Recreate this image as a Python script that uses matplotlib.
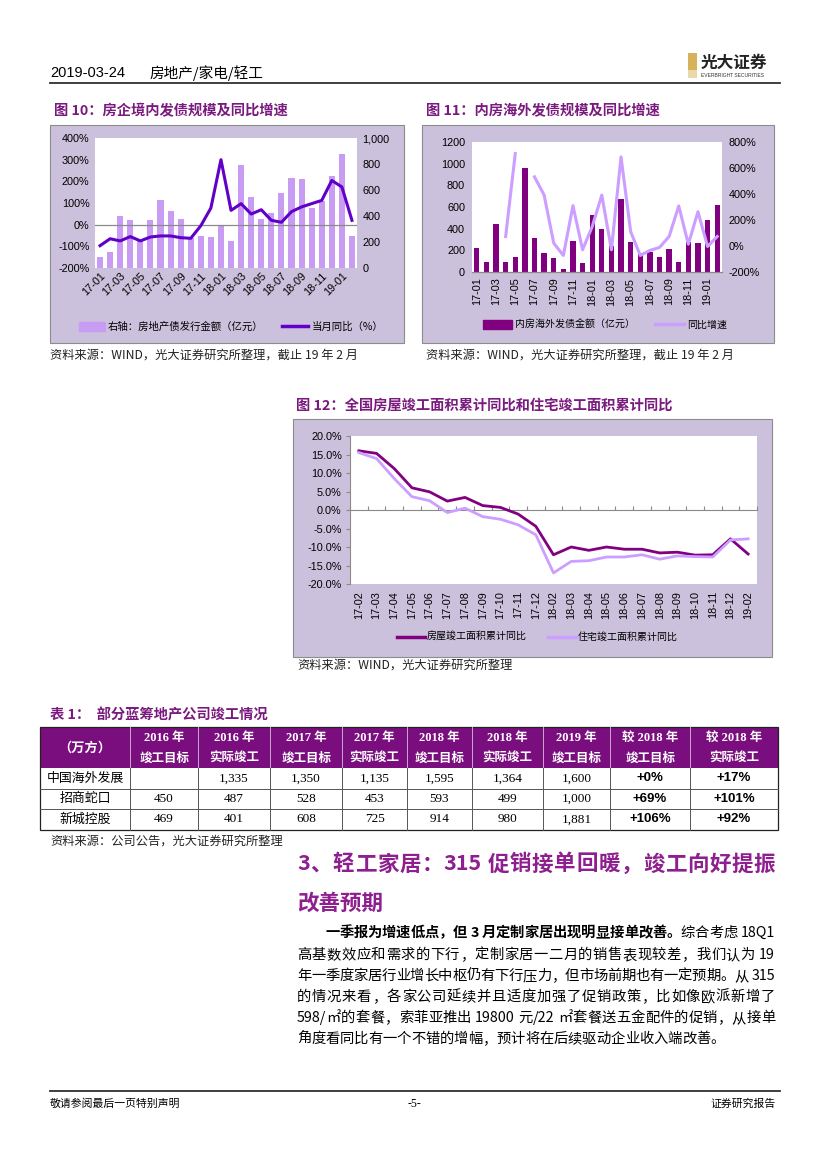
import re
import numpy as np
import matplotlib
matplotlib.use("Agg")
import matplotlib.pyplot as plt
from matplotlib.patches import Rectangle, Patch
from matplotlib.lines import Line2D
from matplotlib.ticker import FuncFormatter

plt.rcParams['font.family'] = ['Noto Sans CJK SC', 'DejaVu Sans']
NUM = ['Liberation Sans', 'Noto Sans CJK SC']

W, H = 827, 1169

# ---- data ----
months26 = ['17-01', '17-02', '17-03', '17-04', '17-05', '17-06', '17-07', '17-08',
            '17-09', '17-10', '17-11', '17-12', '18-01', '18-02', '18-03', '18-04',
            '18-05', '18-06', '18-07', '18-08', '18-09', '18-10', '18-11', '18-12',
            '19-01', '19-02']
# fig 10: onshore bond issuance (亿元) and monthly yoy (%)
onshore_amt = [82, 123, 402, 366, 210, 366, 525, 441, 379, 230, 246, 236, 320, 210,
               789, 546, 377, 425, 579, 692, 685, 458, 512, 705, 877, 248]
onshore_yoy = [-97, -65, -75, -55, -75, -57, -52, -52, -60, -63, -5, 77, 300, 66,
               97, 49, 69, 20, 11, 60, 82, 97, 112, 204, 174, 20]
# fig 11: offshore bond issuance (亿元) and yoy (%)
offshore_amt = [220, 88, 441, 95, 138, 964, 315, 177, 131, 30, 287, 83, 526, 395,
                240, 670, 278, 174, 183, 141, 214, 92, 275, 272, 480, 618]
offshore_yoy = [np.nan, np.nan, np.nan, 73, 711, np.nan, 532, 392, 22, -73, 310, -29,
                149, 392, -29, 685, 111, -73, -34, -11, 73, 308, 14, 264, -4, 73]
# fig 12: cumulative yoy of completed floor area (%)
months23 = ['17-02', '17-03', '17-04', '17-05', '17-06', '17-07', '17-08', '17-09',
            '17-10', '17-11', '17-12', '18-02', '18-03', '18-04', '18-05', '18-06',
            '18-07', '18-08', '18-09', '18-10', '18-11', '18-12', '19-02']
completed_all = [16.0, 15.3, 11.2, 6.0, 4.9, 2.4, 3.4, 1.2, 0.7, -1.1, -4.4, -12.1,
                 -10.0, -10.9, -10.0, -10.6, -10.6, -11.6, -11.4, -12.2, -12.1, -7.8, -11.9]
completed_res = [15.5, 13.9, 8.5, 3.6, 2.5, -0.7, 0.5, -1.8, -2.5, -4.0, -6.7, -17.0,
                 -13.9, -13.7, -12.7, -12.7, -12.1, -13.3, -12.4, -12.6, -12.7, -8.1, -7.8]
# table 1
tbl_head = ['2016 年\n竣工目标', '2016 年\n实际竣工', '2017 年\n竣工目标', '2017 年\n实际竣工',
            '2018 年\n竣工目标', '2018 年\n实际竣工', '2019 年\n竣工目标',
            '较 2018 年\n竣工目标', '较 2018 年\n实际竣工']
companies = ['中国海外发展', '招商蛇口', '新城控股']
area_vals = [[None, 1335, 1350, 1135, 1595, 1364, 1600],
             [450, 487, 528, 453, 593, 499, 1000],
             [469, 401, 608, 725, 914, 980, 1881]]
vs_target = [0, 69, 106]
vs_actual = [17, 101, 92]

LAV = '#CBC1DC'
TITLE = '#7A1A7E'
BAR10 = '#C99CF4'
LINE10 = '#6000C8'
BAR11 = '#800080'
LINE11 = '#CC9EFF'
GRID = '#8A8A8A'
SRC_FS = 8.8
TICK_FS = 7.8


def box(x0, y0, x1, y1):
    return [x0 / W, 1 - y1 / H, (x1 - x0) / W, (y1 - y0) / H]


fig = plt.figure(figsize=(W / 100, H / 100), dpi=100)
renderer = fig.canvas.get_renderer()
page = fig.add_axes([0, 0, 1, 1])
page.set_xlim(0, W)
page.set_ylim(H, 0)
page.axis('off')
page.set_zorder(-1)


def justify(x0, x1, y, segments, fs, stretch=True, color='black'):
    # segments: list of (text, weight); ascii runs stay together
    toks = []
    for text, weight in segments:
        for t in re.findall(r'[A-Za-z0-9/\.]+|.', text):
            toks.append((t, weight))
    arts, widths = [], []
    for t, weight in toks:
        a = page.text(0, y, t, fontsize=fs, weight=weight, va='center', ha='left',
                      color=color)
        arts.append(a)
        widths.append(a.get_window_extent(renderer).width)
    gap = (x1 - x0 - sum(widths)) / (len(toks) - 1) if stretch else 0
    x = x0
    for a, w in zip(arts, widths):
        a.set_x(x)
        x += w + gap


# ---- header / footer ----
page.text(50, 73, '2019-03-24', fontsize=10.5, family=NUM, va='center')
page.text(150, 73, '房地产/家电/轻工', fontsize=10.5, va='center')
page.plot([50, 780], [83, 83], color='#303030', lw=1.3)
page.add_patch(Rectangle((688, 53), 9, 25, facecolor='#D8B25A', edgecolor='none'))
page.add_patch(Rectangle((688, 70), 9, 8, facecolor='#EAD9A8', edgecolor='none'))
page.text(701, 63, '光大证券', fontsize=12, weight='bold', va='center', color='#222222')
page.text(701, 75.5, 'EVERBRIGHT SECURITIES', fontsize=3.6, va='center', family=NUM,
          color='#333333')
page.plot([50, 780], [1091, 1091], color='#303030', lw=1.3)
page.text(50, 1104, '敬请参阅最后一页特别声明', fontsize=7.8, va='center')
page.text(414, 1104, '-5-', fontsize=8.5, va='center', ha='center', family=['Liberation Serif'])
page.text(776, 1104, '证券研究报告', fontsize=7.8, va='center', ha='right')

# ---- chart frames ----
for (x0, y0, x1, y1) in [(50, 125, 404, 343), (422, 125, 774, 343), (293, 419, 772, 657)]:
    page.add_patch(Rectangle((x0, y0), x1 - x0, y1 - y0, facecolor=LAV,
                             edgecolor='#8C8C8C', lw=0.8))

page.text(54, 111, '图 10：房企境内发债规模及同比增速', fontsize=10.3, weight='bold',
          color=TITLE, va='center')
page.text(426, 111, '图 11：内房海外发债规模及同比增速', fontsize=10.3, weight='bold',
          color=TITLE, va='center')
page.text(296, 406, '图 12：全国房屋竣工面积累计同比和住宅竣工面积累计同比', fontsize=10.3,
          weight='bold', color=TITLE, va='center')
src = '资料来源：WIND，光大证券研究所整理，截止 19 年 2 月'
page.text(50, 355, src, fontsize=SRC_FS, va='center', color='#222222')
page.text(426, 355, src, fontsize=SRC_FS, va='center', color='#222222')
page.text(297, 665, '资料来源：WIND，光大证券研究所整理', fontsize=SRC_FS, va='center',
          color='#222222')

x26 = np.arange(len(months26))

# ---- figure 10 ----
ax10 = fig.add_axes(box(95, 138, 357, 268))
ax10.bar(x26, onshore_amt, width=0.6, color=BAR10, zorder=2)
ax10.set_xlim(-0.5, len(months26) - 0.5)
ax10.set_ylim(0, 1000)
ax10.set_yticks(range(0, 1001, 200))
ax10.yaxis.set_major_formatter(FuncFormatter(lambda v, p: f'{v:,.0f}'))
ax10.set_xticks(x26[::2])
ax10.set_xticklabels(months26[::2], rotation=45, ha='right', rotation_mode='anchor')
tw10 = ax10.twinx()
ax10.yaxis.tick_right()
tw10.yaxis.tick_left()
tw10.axhline(0, color=GRID, lw=0.9, zorder=1)
tw10.plot(x26, onshore_yoy, color=LINE10, lw=2.2, zorder=3)
tw10.set_ylim(-200, 400)
tw10.set_yticks(range(-200, 401, 100))
tw10.yaxis.set_major_formatter(FuncFormatter(lambda v, p: f'{v:.0f}%'))
for a in (ax10, tw10):
    for s in a.spines.values():
        s.set_visible(False)
    a.tick_params(length=0, labelsize=TICK_FS, pad=4)
    for lab in a.get_yticklabels() + a.get_xticklabels():
        lab.set_family(NUM)
ax10.tick_params(axis='x', pad=2)
ax10.legend([Patch(color=BAR10), Line2D([], [], color=LINE10, lw=2.5)],
            ['右轴：房地产债发行金额（亿元）', '当月同比（%）'],
            loc='center', bbox_to_anchor=(231, 327), bbox_transform=page.transData,
            ncol=2, frameon=False, fontsize=7.5, handlelength=2.5, handleheight=0.9,
            columnspacing=1.8, handletextpad=0.3)

# ---- figure 11 ----
ax11 = fig.add_axes(box(472, 142, 722, 272))
ax11.bar(x26, offshore_amt, width=0.55, color=BAR11, zorder=2)
ax11.set_xlim(-0.5, len(months26) - 0.5)
ax11.set_ylim(0, 1200)
ax11.set_yticks(range(0, 1201, 200))
ax11.set_xticks(x26[::2])
ax11.set_xticklabels(months26[::2], rotation=90)
tw11 = ax11.twinx()
tw11.plot(x26, offshore_yoy, color=LINE11, lw=2.2, zorder=3)
tw11.set_ylim(-200, 800)
tw11.set_yticks(range(-200, 801, 200))
tw11.yaxis.set_major_formatter(FuncFormatter(lambda v, p: f'{v:.0f}%'))
for a in (ax11, tw11):
    for k, s in a.spines.items():
        s.set_visible(k == 'bottom')
        s.set_color(GRID)
    a.tick_params(axis='y', length=0, labelsize=TICK_FS, pad=5)
    for lab in a.get_yticklabels() + a.get_xticklabels():
        lab.set_family(NUM)
ax11.tick_params(axis='x', length=0, labelsize=TICK_FS, pad=4)
ax11.legend([Patch(color=BAR11), Line2D([], [], color=LINE11, lw=2.5)],
            ['内房海外发债金额（亿元）', '同比增速'],
            loc='center', bbox_to_anchor=(605, 325), bbox_transform=page.transData,
            ncol=2, frameon=False, fontsize=7.2, handlelength=2.9, handleheight=0.9,
            columnspacing=2.0, handletextpad=0.3)

# ---- figure 12 ----
x23 = np.arange(len(months23))
ax12 = fig.add_axes(box(350, 436, 757, 584))
ax12.plot(x23, completed_all, color='#800080', lw=2.0, zorder=3)
ax12.plot(x23, completed_res, color=LINE11, lw=2.0, zorder=3)
ax12.set_xlim(-0.5, len(months23) - 0.5)
ax12.set_ylim(-20, 20)
ax12.set_yticks(np.arange(-20, 21, 5))
ax12.yaxis.set_major_formatter(FuncFormatter(lambda v, p: f'{v:.1f}%'))
ax12.set_xticks(x23)
ax12.set_xticklabels(months23, rotation=90)
for k, s in ax12.spines.items():
    s.set_visible(k == 'left')
    s.set_color(GRID)
ax12.tick_params(axis='y', length=3, color=GRID, labelsize=TICK_FS, pad=3)
ax12.tick_params(axis='x', length=0, labelsize=TICK_FS, pad=5)
for lab in ax12.get_yticklabels() + ax12.get_xticklabels():
    lab.set_family(NUM)
zero = ax12.secondary_xaxis(0.5)
zero.set_xticks(np.arange(-0.5, len(months23), 1.0))
zero.tick_params(length=3, color=GRID, labeltop=False, labelbottom=False)
for s in zero.spines.values():
    s.set_color(GRID)
ax12.legend([Line2D([], [], color='#800080', lw=2.5), Line2D([], [], color=LINE11, lw=2.5)],
            ['房屋竣工面积累计同比', '住宅竣工面积累计同比'],
            loc='center', bbox_to_anchor=(537, 637), bbox_transform=page.transData,
            ncol=2, frameon=False, fontsize=7.2, handlelength=2.8,
            columnspacing=2.1, handletextpad=0.2)

# ---- table 1 ----
page.text(50, 715, '表 1：  部分蓝筹地产公司竣工情况', fontsize=10.3, weight='bold',
          color=TITLE, va='center')
edges = [40, 130, 198, 270, 342, 407, 472, 543, 610, 690, 778]
hy0, hy1 = 727, 768
rows_y = [768, 788.5, 809, 830]
page.add_patch(Rectangle((edges[0], hy0), edges[-1] - edges[0], hy1 - hy0,
                         facecolor='#7B0E7E', edgecolor='none'))
for xe in edges[1:-1]:
    page.plot([xe, xe], [hy0, hy1], color='#C9A6CC', lw=0.7)
    page.plot([xe, xe], [hy1, rows_y[-1]], color='#555555', lw=0.7)
for yy in rows_y[1:-1]:
    page.plot([edges[0], edges[-1]], [yy, yy], color='#555555', lw=0.7)
page.add_patch(Rectangle((edges[0], hy0), edges[-1] - edges[0], rows_y[-1] - hy0,
                         facecolor='none', edgecolor='#222222', lw=0.9))
page.text((edges[0] + edges[1]) / 2, (hy0 + hy1) / 2, '（万方）', color='white',
          fontsize=9.5, weight='bold', ha='center', va='center')
for j, h in enumerate(tbl_head):
    top, bot = h.split('\n')
    cx = (edges[j + 1] + edges[j + 2]) / 2
    page.text(cx, 738, top, color='white', fontsize=9, weight='bold', ha='center',
              va='center', family=['Liberation Serif', 'Noto Sans CJK SC'])
    page.text(cx, 758, bot, color='white', fontsize=9, weight='bold', ha='center',
              va='center')
for i, name in enumerate(companies):
    cy = (rows_y[i] + rows_y[i + 1]) / 2
    page.text((edges[0] + edges[1]) / 2, cy, name, fontsize=9.3, ha='center', va='center')
    for j, v in enumerate(area_vals[i]):
        if v is None:
            continue
        cx = (edges[j + 1] + edges[j + 2]) / 2
        page.text(cx, cy, f'{v:,}', fontsize=9.5, ha='center', va='center',
                  family=['Liberation Serif'])
    for j, v in enumerate([vs_target[i], vs_actual[i]]):
        cx = (edges[8 + j] + edges[9 + j]) / 2
        page.text(cx, cy, f'+{v}%', fontsize=9.5, weight='bold', ha='center',
                  va='center', family=['Liberation Sans'])
page.text(50, 841, '资料来源：公司公告，光大证券研究所整理', fontsize=SRC_FS, va='center',
          color='#222222')

# ---- section text ----
HEAD = '#8E1F8F'
justify(297, 775, 864, [('3、轻工家居：315 促销接单回暖，竣工向好提振', 'bold')], 15.5,
        color=HEAD)
page.text(297, 903, '改善预期', fontsize=15.5, weight='bold', color=HEAD, va='center')

body_fs = 10.3
justify(325, 775, 933, [('一季报为增速低点，但 3 月定制家居出现明显接单改善。', 'bold'),
                        ('综合考虑 18Q1', 'normal')], body_fs)
body = ['高基数效应和需求的下行，定制家居一二月的销售表现较差，我们认为 19',
        '年一季度家居行业增长中枢仍有下行压力，但市场前期也有一定预期。从 315',
        '的情况来看，各家公司延续并且适度加强了促销政策，比如像欧派新增了',
        '598/㎡的套餐，索菲亚推出 19800 元/22 ㎡套餐送五金配件的促销，从接单',
        '角度看同比有一个不错的增幅，预计将在后续驱动企业收入端改善。']
for k, line in enumerate(body):
    justify(297, 775, 955 + 21 * k, [(line, 'normal')], body_fs,
            stretch=(k < len(body) - 1))

fig.savefig('out.png', dpi=100)
